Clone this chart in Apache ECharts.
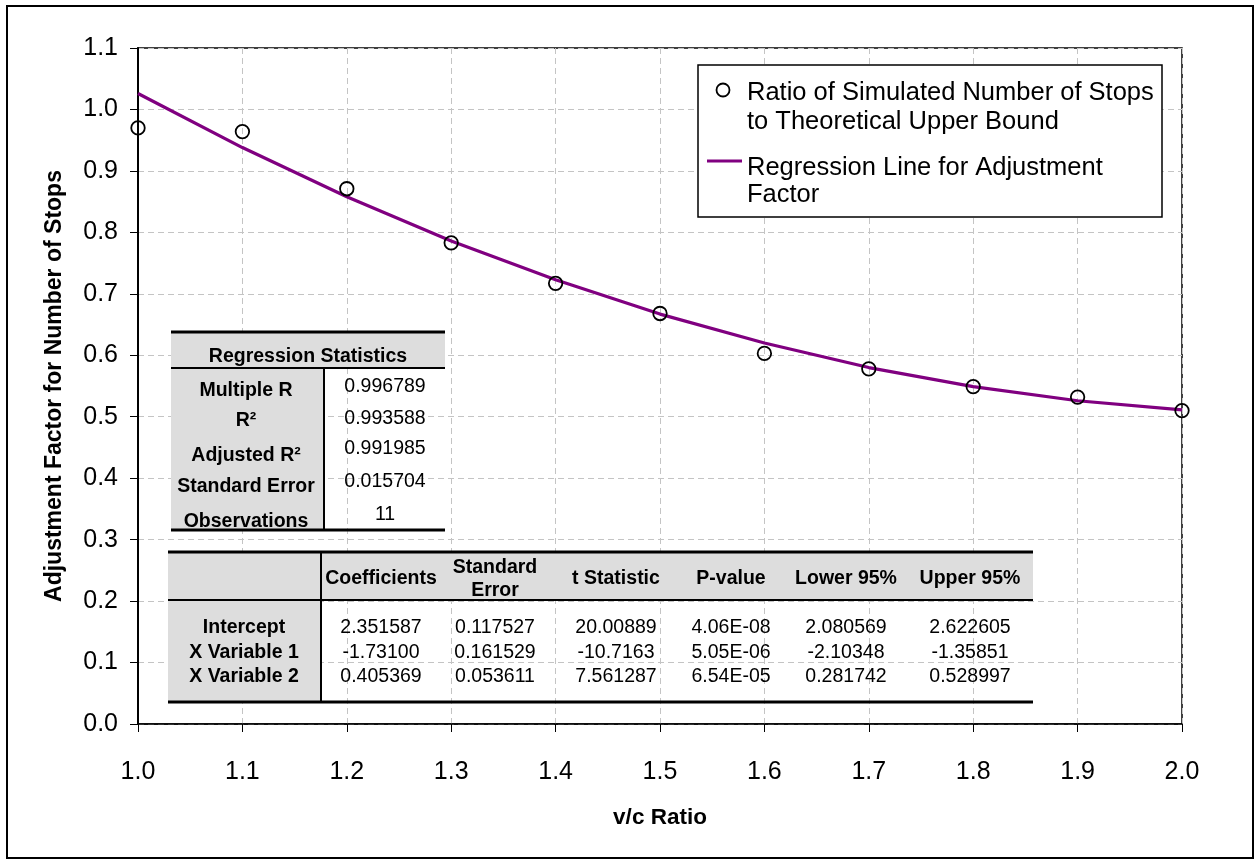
<!DOCTYPE html>
<html>
<head>
<meta charset="utf-8">
<script src="https://cdn.jsdelivr.net/npm/echarts@6/dist/echarts.min.js"></script>
<style>
  html, body { margin: 0; padding: 0; background: #fff; }
  #chart { width: 1255px; height: 860px; }
</style>
</head>
<body>
<div id="chart"></div>
<script>
// v/c ratio on the x axis
const vcRatio = [1.0, 1.1, 1.2, 1.3, 1.4, 1.5, 1.6, 1.7, 1.8, 1.9, 2.0];
// simulated stops divided by the theoretical upper bound
const stopRatio = [0.970, 0.964, 0.871, 0.783, 0.717, 0.668, 0.603, 0.578, 0.549, 0.532, 0.510];
// fitted adjustment factor at each v/c ratio
const regressionLine = [1.026, 0.938, 0.858, 0.786, 0.723, 0.667, 0.620, 0.580, 0.549, 0.526, 0.511];

const seriesNames = [
  'Ratio of Simulated Number of Stops\nto Theoretical Upper Bound',
  'Regression Line for Adjustment\nFactor'
];

// regression summary
const statsTitle = 'Regression Statistics';
const statsLabels = ['Multiple R', 'R²', 'Adjusted R²', 'Standard Error', 'Observations'];
const statsValues = ['0.996789', '0.993588', '0.991985', '0.015704', '11'];

// coefficient table
const coefHeaders = ['Coefficients', 'Standard\nError', 't Statistic', 'P-value', 'Lower 95%', 'Upper 95%'];
const coefRowLabels = ['Intercept', 'X Variable 1', 'X Variable 2'];
const coefIntercept = ['2.351587', '0.117527', '20.00889', '4.06E-08', '2.080569', '2.622605'];
const coefX1 = ['-1.73100', '0.161529', '-10.7163', '5.05E-06', '-2.10348', '-1.35851'];
const coefX2 = ['0.405369', '0.053611', '7.561287', '6.54E-05', '0.281742', '0.528997'];

const FONT = "'Liberation Sans', Arial, sans-serif";
const GREY = '#dddddd';
const PURPLE = '#800080';

const chart = echarts.init(document.getElementById('chart'), null, { renderer: 'canvas' });

const g = [];
function line(x1, y1, x2, y2, w, color) {
  g.push({ type: 'line', z: 5, silent: true,
    shape: { x1, y1, x2, y2 }, style: { stroke: color || '#000', lineWidth: w } });
}
function rect(x, y, w, h, style) {
  g.push({ type: 'rect', z: 5, silent: true, shape: { x, y, width: w, height: h }, style });
}
function text(str, x, y, size, bold, align) {
  g.push({ type: 'text', z: 6, silent: true, x, y,
    style: { text: str, fill: '#000', font: (bold ? 'bold ' : '') + size + 'px ' + FONT,
      textAlign: align || 'center', textVerticalAlign: 'middle', lineHeight: size + 3 } });
}

// outer frame
rect(7, 6, 1246, 852, { fill: null, stroke: '#000', lineWidth: 2 });

// legend
const LEGEND_FONT = 25.5;
rect(698, 65, 464, 152, { fill: '#fff', stroke: '#000', lineWidth: 1.5 });
g.push({ type: 'circle', z: 6, silent: true, shape: { cx: 723, cy: 90, r: 6.5 },
  style: { fill: '#fff', stroke: '#000', lineWidth: 1.8 } });
line(707, 161, 742, 161, 3, PURPLE);
const legendLines0 = seriesNames[0].split('\n');
const legendLines1 = seriesNames[1].split('\n');
text(legendLines0[0], 747, 93, LEGEND_FONT, false, 'left');
text(legendLines0[1], 747, 122, LEGEND_FONT, false, 'left');
text(legendLines1[0], 747, 168, LEGEND_FONT, false, 'left');
text(legendLines1[1], 747, 195, LEGEND_FONT, false, 'left');

// regression statistics table
const TABLE_FONT = 19.5;
rect(171, 332, 274, 36, { fill: GREY });
rect(171, 368, 153, 162, { fill: GREY });
line(171, 332, 445, 332, 3);
line(171, 368, 445, 368, 2);
line(324, 368, 324, 530, 2);
line(171, 530, 445, 530, 3);
text(statsTitle, 308, 357, TABLE_FONT, true);
const statLabelY = [391, 421, 456, 487, 522];
const statValueY = [387, 419, 449, 482, 515];
statsLabels.forEach((s, i) => text(s, 246, statLabelY[i], TABLE_FONT, true));
statsValues.forEach((s, i) => text(s, 385, statValueY[i], TABLE_FONT, false));

// coefficient table
rect(168, 552, 865, 48, { fill: GREY });
rect(168, 600, 153, 102, { fill: GREY });
line(168, 552, 1033, 552, 3);
line(168, 600, 1033, 600, 2);
line(321, 552, 321, 702, 2);
line(168, 702, 1033, 702, 3);
const colX = [381, 495, 616, 731, 846, 970];
const rowY = [628, 653, 677];
coefHeaders.forEach((s, i) => text(s, colX[i], 579, TABLE_FONT, true));
coefRowLabels.forEach((s, i) => text(s, 244, rowY[i], TABLE_FONT, true));
[coefIntercept, coefX1, coefX2].forEach((row, r) =>
  row.forEach((s, i) => text(s, colX[i], rowY[r], TABLE_FONT, false)));

const gridLine = { show: true, lineStyle: { color: '#c4c4c4', type: [6, 4], width: 1 } };

chart.setOption({
  animation: false,
  backgroundColor: '#fff',
  textStyle: { fontFamily: FONT },
  grid: { left: 138, right: 73, top: 48, bottom: 136, show: true,
    borderColor: '#000', borderWidth: 1.5, backgroundColor: 'transparent' },
  xAxis: {
    type: 'value', min: 1.0, max: 2.0, interval: 0.1,
    name: 'v/c Ratio', nameLocation: 'middle', nameGap: 82,
    nameTextStyle: { fontSize: 22.5, fontWeight: 'bold', color: '#000', fontFamily: FONT },
    axisLine: { lineStyle: { color: '#000', width: 1.5 } },
    axisTick: { show: true, length: 8, lineStyle: { color: '#000' } },
    axisLabel: { fontSize: 25, color: '#000', margin: 36, fontFamily: FONT,
      formatter: v => v.toFixed(1) },
    splitLine: gridLine
  },
  yAxis: {
    type: 'value', min: 0, max: 1.1, interval: 0.1,
    name: 'Adjustment Factor for Number of Stops', nameLocation: 'middle', nameGap: 72,
    nameRotate: 90,
    nameTextStyle: { fontSize: 23, fontWeight: 'bold', color: '#000', fontFamily: FONT },
    axisLine: { show: true, lineStyle: { color: '#000', width: 2 } },
    axisTick: { show: true, length: 8, lineStyle: { color: '#000' } },
    axisLabel: { fontSize: 25, color: '#000', margin: 20, fontFamily: FONT,
      formatter: v => v.toFixed(1) },
    splitLine: gridLine
  },
  graphic: g,
  series: [
    {
      name: seriesNames[1], type: 'line', z: 3,
      data: vcRatio.map((x, i) => [x, regressionLine[i]]),
      showSymbol: false, smooth: false,
      lineStyle: { color: PURPLE, width: 3.2 }
    },
    {
      name: seriesNames[0], type: 'scatter', z: 4, clip: false,
      data: vcRatio.map((x, i) => [x, stopRatio[i]]),
      symbol: 'circle', symbolSize: 13.5,
      itemStyle: { color: 'rgba(255,255,255,0)', borderColor: '#000', borderWidth: 1.8, opacity: 1 }
    }
  ]
});
</script>
</body>
</html>
